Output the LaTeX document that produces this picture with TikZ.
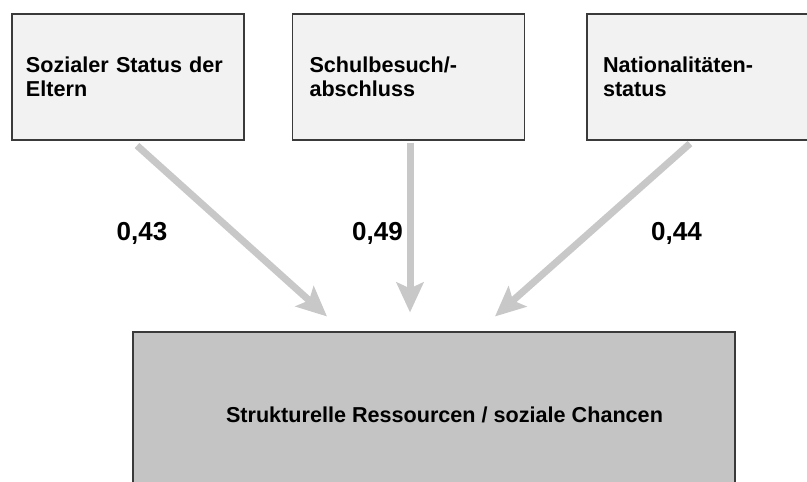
\documentclass[tikz,border=0pt]{standalone}
\usepackage{fontspec}
\setmainfont{Liberation Sans}
\usetikzlibrary{arrows.meta,calc}
\definecolor{boxfill}{HTML}{F2F2F2}
\definecolor{mainfill}{HTML}{C4C4C4}
\definecolor{arrowgray}{HTML}{C8C8C8}
\definecolor{edgegray}{HTML}{3A3A3A}
\begin{document}
\begin{tikzpicture}[x=1pt,y=-1pt,
  topbox/.style={draw=edgegray,line width=1.1pt,fill=boxfill,minimum width=232pt,minimum height=126pt,
    text width=204pt,inner xsep=14pt,align=left,font=\bfseries\fontsize{21.6}{24}\selectfont},
  mainbox/.style={draw=edgegray,line width=1.1pt,fill=mainfill,minimum width=602pt,minimum height=165pt,
    font=\bfseries\fontsize{21.6}{24}\selectfont},
  flow/.style={draw=arrowgray,line width=7pt,-{Stealth[length=30pt,width=27pt,inset=6pt]}},
  coef/.style={anchor=base,font=\bfseries\fontsize{26}{30}\selectfont}]
\useasboundingbox (0,0) rectangle (807,482);
\node[topbox] (b1) at (128,77) {Sozialer Status der\\Eltern};
\node[topbox] (b2) at (408.5,77) {\hspace*{3pt}Schulbesuch/-\\\hspace*{3pt}abschluss};
\node[topbox] (b3) at (703,77) {\hspace*{2pt}Nationalitäten-\\\hspace*{2pt}status};
\node[mainbox] (m) at (434,414.5) {\hspace*{21pt}Strukturelle Ressourcen / soziale Chancen};
\coordinate (s1) at ($(b1.south)+(9,5)$);
\coordinate (s2) at ($(b2.south)+(1.5,2)$);
\coordinate (s3) at ($(b3.south)+(-13,3)$);
\coordinate (t1) at ($(m.north)+(-107,-15)$);
\coordinate (t2) at ($(m.north)+(-24,-19)$);
\coordinate (t3) at ($(m.north)+(61,-15)$);
\draw[flow] (s1) -- (t1);
\draw[flow] (s2) -- (t2);
\draw[flow] (s3) -- (t3);
\node[coef] (c1) at (142,240) {0,43};
\node[coef] (c2) at (377.5,240) {0,49};
\node[coef] (c3) at (676.5,240) {0,44};
\end{tikzpicture}
\end{document}
